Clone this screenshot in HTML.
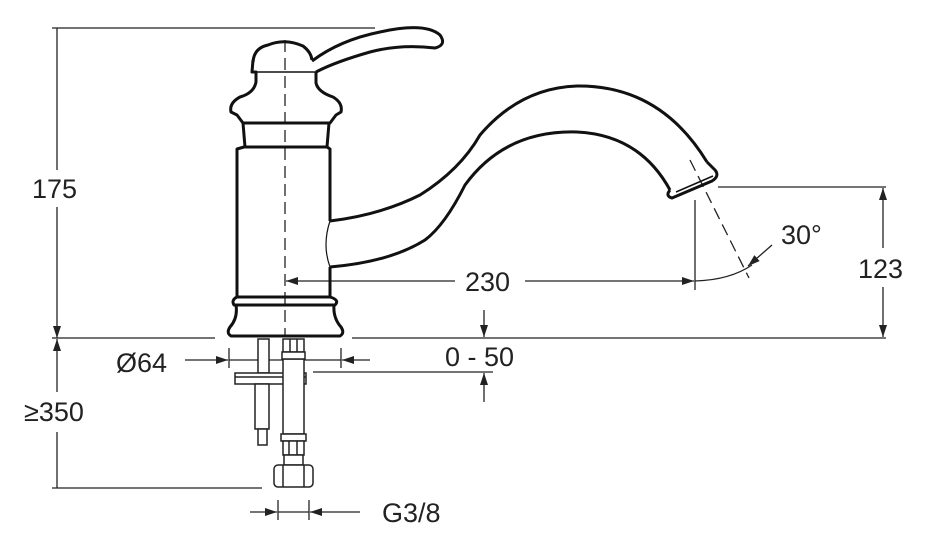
<!DOCTYPE html>
<html><head><meta charset="utf-8"><style>
html,body{margin:0;padding:0;background:#fff;}
svg{display:block}
text{font-family:"Liberation Sans",sans-serif;font-size:27px;fill:#222;}
</style></head><body>
<svg width="933" height="550" viewBox="0 0 933 550" xmlns="http://www.w3.org/2000/svg">
<defs>
<marker id="a" markerWidth="12" markerHeight="8" refX="12" refY="4" orient="auto" markerUnits="userSpaceOnUse"><path d="M0,0 L12,4 L0,8 Z" fill="#222"/></marker>
</defs>
<g stroke="#222" stroke-width="1.3" fill="none">
<line x1="52" y1="28" x2="375" y2="28"/>
<line x1="52" y1="338" x2="215" y2="338"/>
<line x1="352" y1="338" x2="886" y2="338"/>
<line x1="52" y1="488" x2="262" y2="488"/>
<line x1="718" y1="187" x2="886" y2="187"/>
<line x1="57" y1="28" x2="57" y2="170"/>
<line x1="57" y1="207" x2="57" y2="338" marker-end="url(#a)"/>
<line x1="57" y1="392" x2="57" y2="339" marker-end="url(#a)"/>
<line x1="57" y1="432" x2="57" y2="488"/>
<line x1="883" y1="248" x2="883" y2="188" marker-end="url(#a)"/>
<line x1="883" y1="287" x2="883" y2="337" marker-end="url(#a)"/>
<line x1="455" y1="281" x2="286" y2="281" marker-end="url(#a)"/>
<line x1="525" y1="281" x2="694" y2="281" marker-end="url(#a)"/>
<line x1="695" y1="200" x2="695" y2="290"/>
<line x1="690" y1="160" x2="749" y2="278" stroke-dasharray="12,6"/>
<path d="M695,281 Q730,280 752,265"/>
<line x1="772" y1="245" x2="748" y2="266" marker-end="url(#a)"/>
<line x1="185" y1="360" x2="228" y2="360" marker-end="url(#a)"/>
<line x1="370" y1="360" x2="342" y2="360" marker-end="url(#a)"/>
<line x1="229" y1="348" x2="229" y2="368"/>
<line x1="341" y1="348" x2="341" y2="368"/>
<line x1="229" y1="360" x2="341" y2="360"/>
<line x1="484" y1="310" x2="484" y2="337" marker-end="url(#a)"/>
<line x1="313" y1="372" x2="493" y2="372"/>
<line x1="484" y1="402" x2="484" y2="373" marker-end="url(#a)"/>
<line x1="250" y1="512" x2="277" y2="512" marker-end="url(#a)"/>
<line x1="360" y1="512" x2="310" y2="512" marker-end="url(#a)"/>
<line x1="278" y1="500" x2="278" y2="520"/>
<line x1="309" y1="500" x2="309" y2="520"/>
<line x1="278" y1="512" x2="309" y2="512"/>
<line x1="285" y1="40" x2="285" y2="335" stroke-dasharray="12,6"/>
</g>
<g stroke="#111" stroke-width="3" fill="none" stroke-linejoin="round">
<path d="M312,61 Q340,40 380,32 Q425,22 440,35 Q447,45 435,48 Q400,44 370,52 Q335,62 316,72"/>
<path d="M253,62 Q254,48 268,45 Q285,38 303,46 Q311,52 312,60"/>
<path d="M253,60 L252,72 L256,72 L256,82 Q254,93 240,97 Q229,103 231,112 L237,115 L243,123 L330,123 L336,115 L341,112 Q343,103 333,97 Q318,92 316,83 L316,72"/>
<path d="M252,72 L316,72" stroke-width="1.5"/>
<path d="M243,123 L245,147 L327,147 L329,123"/>
<path d="M244,147 L237,149 L237,297 L330,297 L330,267"/>
<path d="M330,221 L330,149 L327,147"/>
<path d="M237,297 Q231,300 234,305 L335,305 Q340,300 330,297"/>
<path d="M236,305 Q238,318 230,327 Q226,333 231,336 L340,336 Q345,333 341,327 Q333,318 334,305"/>
<path d="M330,221 Q380,215 420,195 Q460,170 480,135 Q520,88 577,86 Q660,85 707,162"/>
<path d="M330,267 Q390,262 425,240 Q445,225 465,185 Q505,130 577,132 Q640,135 670,190"/>
<path d="M670,190 Q665,196 672,198 L712,181 Q720,176 715,170 L707,162"/>
<path d="M676,192 L713,176" stroke-width="1.5"/>
</g>
<path d="M330,221 Q322,245 330,267" stroke="#111" stroke-width="1.2" fill="none"/>
<g stroke="#222" stroke-width="1.5" fill="#fff">
<rect x="258" y="339" width="11" height="34"/>
<rect x="235" y="373" width="71" height="11"/>
<line x1="235" y1="377" x2="306" y2="377"/>
<rect x="255" y="384" width="14" height="45"/>
<rect x="258" y="429" width="9" height="16"/>
<rect x="283" y="359" width="21" height="75"/>
<rect x="283" y="339" width="21" height="13"/>
<line x1="290" y1="339" x2="290" y2="352"/><line x1="297" y1="339" x2="297" y2="352"/>
<rect x="282" y="352" width="23" height="7"/>
<rect x="281" y="434" width="25" height="7"/>
<rect x="283" y="441" width="21" height="14"/>
<line x1="289" y1="441" x2="289" y2="455"/><line x1="297" y1="441" x2="297" y2="455"/>
<rect x="284" y="455" width="19" height="10"/>
<rect x="274" y="465" width="39" height="22" rx="4"/>
<line x1="283" y1="465" x2="283" y2="487"/><line x1="304" y1="465" x2="304" y2="487"/>
</g>
<text x="32" y="198">175</text>
<text x="24" y="421">≥350</text>
<text x="116" y="372">Ø64</text>
<text x="445" y="366">0 - 50</text>
<text x="465" y="291">230</text>
<text x="781" y="244">30°</text>
<text x="858" y="278">123</text>
<text x="382" y="522">G3/8</text>
</svg>
</body></html>
